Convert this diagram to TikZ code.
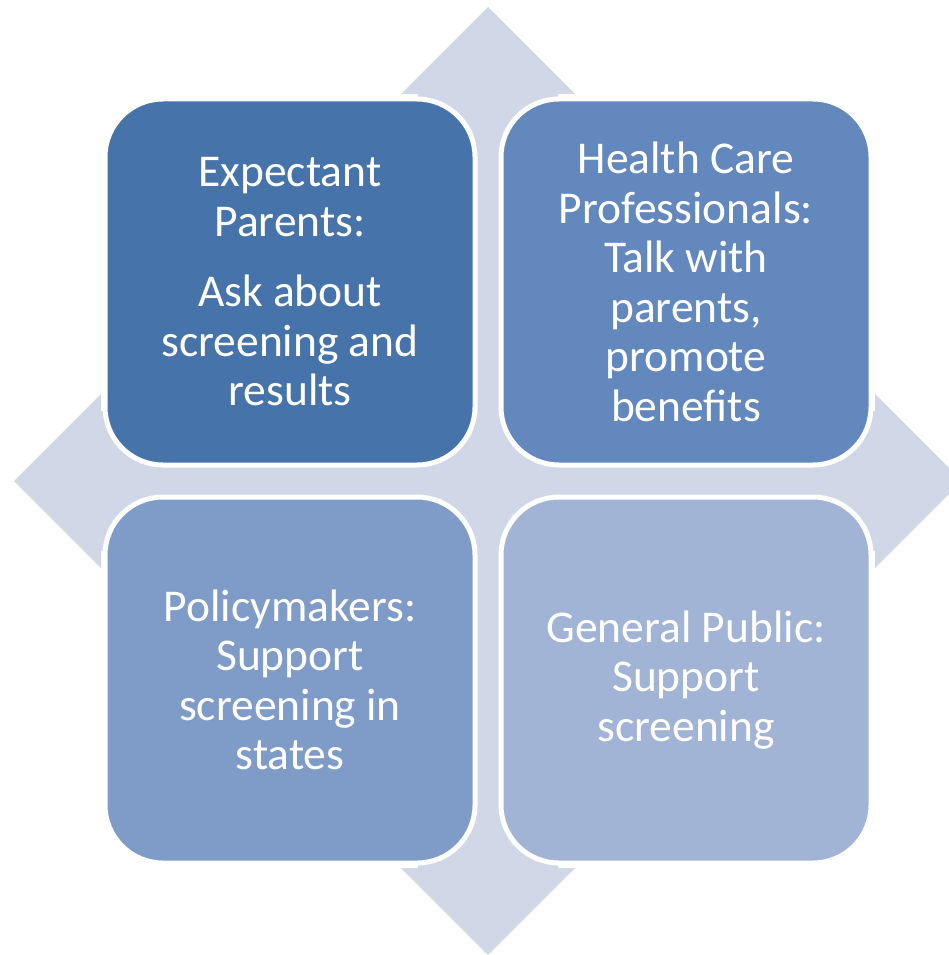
\documentclass[tikz,border=0pt]{standalone}
\usepackage{fontspec}
\setmainfont{Carlito}
\usepackage{tikz}

\definecolor{cross}{RGB}{208,216,232}
\definecolor{tileA}{RGB}{70,116,170}
\definecolor{tileB}{RGB}{98,136,189}
\definecolor{tileC}{RGB}{127,156,200}
\definecolor{tileD}{RGB}{161,180,214}

\begin{document}
\begin{tikzpicture}
[
  x = 1pt, y = -1pt,
  tile/.style  = {shape=rectangle, rounded corners=58pt, draw=white,
                  line width=5pt, minimum width=370pt, minimum height=366pt,
                  text=white, align=center,
                  font=\fontsize{45.5}{49.5}\selectfont},
  arms/.style  = {fill=cross, draw=none}
]
\useasboundingbox (0,0) rectangle (949,955);

% four-way arrow behind the tiles
\path [arms]
  (488,7) -- (575,94) -- (558,94) -- (558,411) -- (875,411) -- (875,394)
  -- (962,481) -- (875,568) -- (875,551) -- (558,551) -- (558,868)
  -- (575,868) -- (488,955) -- (401,868) -- (418,868) -- (418,551)
  -- (101,551) -- (101,568) -- (14,481) -- (101,394) -- (101,411)
  -- (418,411) -- (418,94) -- (401,94) -- cycle;

\node [tile, fill=tileA] (parents) at (290,282)
  {Expectant\\Parents:\\[21pt]Ask about\\screening and\\results};
\node [tile, fill=tileB] (health) at (686,282)
  {Health Care\\Professionals:\\Talk with\\parents,\\promote\\benefits};
\node [tile, fill=tileC] (policy) at (290,680)
  {Policymakers:\\Support\\screening in\\states};
\node [tile, fill=tileD] (public) at (686,680)
  {General Public:\\Support\\screening};
\end{tikzpicture}
\end{document}
